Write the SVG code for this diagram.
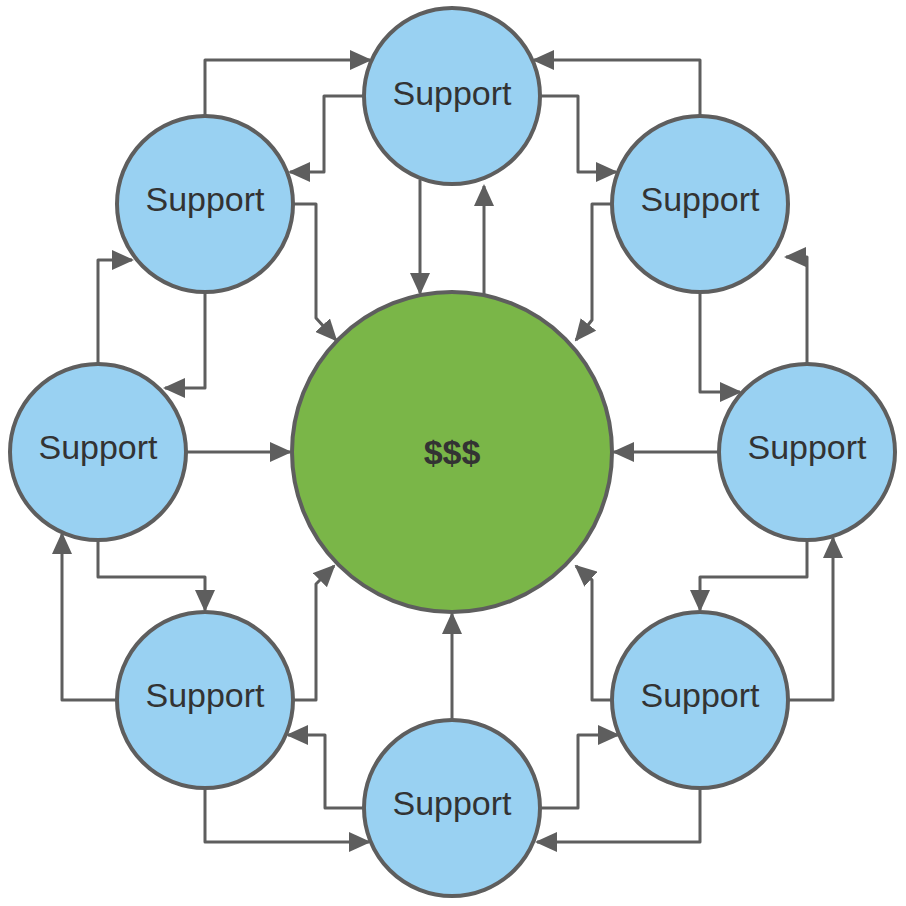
<svg xmlns="http://www.w3.org/2000/svg" width="906" height="906" viewBox="0 0 906 906">
<style>
.s{fill:#99d1f2;stroke:#5e5e5e;stroke-width:4}
.c{fill:#7ab648;stroke:#5e5e5e;stroke-width:4}
.t{font-family:"Liberation Sans",Arial,sans-serif;font-size:34px;fill:#333;text-anchor:middle;dominant-baseline:central}
#edges path{fill:none;stroke:#5e5e5e;stroke-width:3;stroke-linejoin:round;marker-end:url(#a)}
</style>
<defs><marker id="a" markerUnits="userSpaceOnUse" markerWidth="22" markerHeight="20" refX="20" refY="10" orient="auto"><path d="M0,0L22,10L0,20Z" fill="#5e5e5e"/></marker></defs>
<rect width="906" height="906" fill="#fff"/>
<g id="edges">
<path d="M205,116V60H370"/>
<path d="M364,96H324V172H290"/>
<path d="M293,204H316V318L336,340"/>
<path d="M420,180V293"/>
<path d="M484,295V186"/>
<path d="M541,96H578V172H616"/>
<path d="M700,116V60H534"/>
<path d="M612,204H592V320L576,340"/>
<path d="M700,292V392H740"/>
<path d="M807,364V257H786"/>
<path d="M719,452H614"/>
<path d="M186,452H290"/>
<path d="M807,540V577H700V610"/>
<path d="M788,700H833V538"/>
<path d="M612,700H592V580L576,566"/>
<path d="M540,808H578V735H618"/>
<path d="M700,788V842H537"/>
<path d="M452,720V614"/>
<path d="M364,808H325V735H288"/>
<path d="M205,788V842H369"/>
<path d="M293,700H316V584L334,566"/>
<path d="M117,700H62V534"/>
<path d="M98,540V577H205V610"/>
<path d="M98,364V260H132"/>
<path d="M205,292V388H165"/>
</g>
<g id="center"><circle class="c" cx="452" cy="452" r="160"/><text class="t" x="452" y="452" font-weight="bold" style="fill:#333">$$$</text></g>
<g id="n-top"><circle class="s" cx="452" cy="96" r="88"/><text class="t" x="452" y="93">Support</text></g>
<g id="n-tl"><circle class="s" cx="205" cy="204" r="88"/><text class="t" x="205" y="199">Support</text></g>
<g id="n-tr"><circle class="s" cx="700" cy="204" r="88"/><text class="t" x="700" y="199">Support</text></g>
<g id="n-l"><circle class="s" cx="98" cy="452" r="88"/><text class="t" x="98" y="447">Support</text></g>
<g id="n-r"><circle class="s" cx="807" cy="452" r="88"/><text class="t" x="807" y="447">Support</text></g>
<g id="n-bl"><circle class="s" cx="205" cy="700" r="88"/><text class="t" x="205" y="695">Support</text></g>
<g id="n-br"><circle class="s" cx="700" cy="700" r="88"/><text class="t" x="700" y="695">Support</text></g>
<g id="n-b"><circle class="s" cx="452" cy="808" r="88"/><text class="t" x="452" y="803">Support</text></g>
</svg>
